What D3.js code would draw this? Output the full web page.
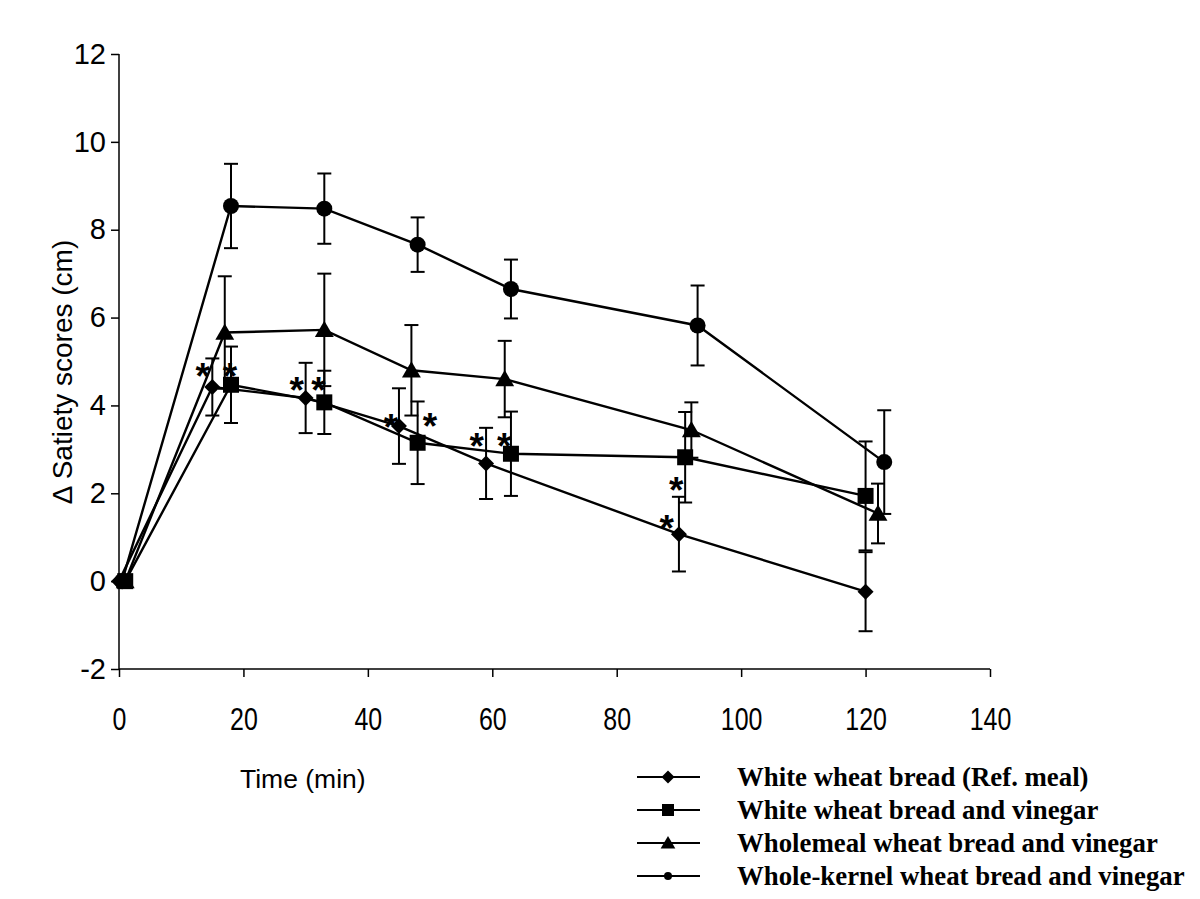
<!DOCTYPE html>
<html>
<head>
<meta charset="utf-8">
<script src="https://cdn.jsdelivr.net/npm/d3@7"></script>
<style>
html,body{margin:0;padding:0;background:#fff;}
svg{display:block;}
</style>
</head>
<body>
<svg id="chart" width="1200" height="899"></svg>
<script>
// ---- data ----
const seriesNames = [
  "White wheat bread (Ref. meal)",
  "White wheat bread and vinegar",
  "Wholemeal wheat bread and vinegar",
  "Whole-kernel wheat bread and vinegar"
];
const seriesSymbols = ["diamond", "square", "triangle", "circle"];

const diamondX   = [0, 15, 30, 45, 59, 90, 120];
const diamondY   = [0, 4.42, 4.17, 3.53, 2.68, 1.07, -0.24];
const diamondErr = [0, 0.65, 0.80, 0.86, 0.81, 0.85, 0.90];

const squareX   = [1, 18, 33, 48, 63, 91, 120];
const squareY   = [0, 4.47, 4.07, 3.15, 2.90, 2.82, 1.94];
const squareErr = [0, 0.87, 0.72, 0.94, 0.96, 1.03, 1.24];

const triangleX   = [1, 17, 33, 47, 62, 92, 122];
const triangleY   = [0, 5.66, 5.72, 4.80, 4.60, 3.44, 1.54];
const triangleErr = [0, 1.28, 1.28, 1.03, 0.87, 0.63, 0.68];

const circleX   = [0.5, 18, 33, 48, 63, 93, 123];
const circleY   = [0, 8.54, 8.48, 7.66, 6.65, 5.82, 2.71];
const circleErr = [0, 0.96, 0.80, 0.62, 0.67, 0.91, 1.18];

// significance asterisks (x, y in data units)
const starX = [13.46, 17.85, 28.57, 32.04, 43.73, 50.0, 57.5, 61.9, 89.55, 88.05];
const starY = [4.83, 4.83, 4.52, 4.52, 3.67, 3.69, 3.25, 3.25, 2.25, 1.38];

const xTicks = [0, 20, 40, 60, 80, 100, 120, 140];
const yTicks = [-2, 0, 2, 4, 6, 8, 10, 12];
const xTitle = "Time (min)";
const yTitle = "\u0394 Satiety scores (cm)";

// ---- build ----
const seriesData = [
  {x: diamondX, y: diamondY, e: diamondErr},
  {x: squareX, y: squareY, e: squareErr},
  {x: triangleX, y: triangleY, e: triangleErr},
  {x: circleX, y: circleY, e: circleErr}
].map((s, i) => ({
  name: seriesNames[i],
  symbol: seriesSymbols[i],
  points: s.x.map((xv, j) => ({x: xv, y: s.y[j], e: s.e[j]}))
}));

const svg = d3.select("#chart");
const mLeft = 119, mRight = 990, mTop = 54, mBottom = 669;
const x = d3.scaleLinear().domain([0, 140]).range([mLeft, mRight]);
const y = d3.scaleLinear().domain([-2, 12]).range([mBottom, mTop]);

function symbolPath(type, size) {
  if (type === "diamond") {
    const h = size;
    return `M0,${-h}L${h},0L0,${h}L${-h},0Z`;
  }
  if (type === "square") {
    const h = size;
    return `M${-h},${-h}H${h}V${h}H${-h}Z`;
  }
  if (type === "triangle") {
    const w = size * 1.05, hh = size * 1.0;
    return `M0,${-hh}L${w},${hh*0.8}L${-w},${hh*0.8}Z`;
  }
  const r = size;
  return `M${r},0A${r},${r} 0 1,1 ${-r},0A${r},${r} 0 1,1 ${r},0Z`;
}
const plotSize = {diamond: 8, square: 8, triangle: 9, circle: 8};
const legendSize = {diamond: 6.5, square: 6, triangle: 7, circle: 4};
const plainFormat = d => String(d);

// axes
const yAxis = d3.axisLeft(y).tickValues(yTicks).tickSize(8).tickPadding(5).tickFormat(plainFormat);
const gy = svg.append("g").attr("transform", `translate(${mLeft},0)`).call(yAxis);
gy.select(".domain").attr("d", `M0,${mBottom}V${mTop}`).attr("stroke", "#000").attr("stroke-width", 1.5);
gy.selectAll(".tick line").attr("stroke", "#000").attr("stroke-width", 1.5);
gy.selectAll(".tick text").attr("font-family", "Liberation Sans, Arial, sans-serif").attr("font-size", 29).attr("fill", "#000");

const xAxis = d3.axisBottom(x).tickValues(xTicks).tickSize(8).tickPadding(30).tickFormat(plainFormat);
const gx = svg.append("g").attr("transform", `translate(0,${mBottom})`).call(xAxis);
gx.select(".domain").attr("d", `M${mLeft},0H${mRight}`).attr("stroke", "#000").attr("stroke-width", 1.5);
gx.selectAll(".tick line").attr("stroke", "#000").attr("stroke-width", 1.5);
gx.selectAll(".tick text").attr("font-family", "Liberation Sans, Arial, sans-serif").attr("font-size", 32)
  .attr("fill", "#000").attr("transform", "scale(0.78,1)");

// titles
svg.append("text").attr("transform", `translate(72,372) rotate(-90)`)
  .attr("text-anchor", "middle").attr("font-family", "Liberation Sans, Arial, sans-serif")
  .attr("font-size", 28).attr("fill", "#000").text(yTitle);
svg.append("text").attr("x", 240).attr("y", 788)
  .attr("font-family", "Liberation Sans, Arial, sans-serif")
  .attr("font-size", 26.5).attr("fill", "#000").text(xTitle);

// lines
const line = d3.line().x(d => x(d.x)).y(d => y(d.y));
svg.append("g").selectAll("path").data(seriesData).join("path")
  .attr("d", d => line(d.points)).attr("fill", "none").attr("stroke", "#000").attr("stroke-width", 2.4);

// error bars
const eg = svg.append("g").attr("stroke", "#000").attr("stroke-width", 2);
seriesData.forEach(s => {
  s.points.filter(p => p.e > 0).forEach(p => {
    const cx = x(p.x), y1 = y(p.y + p.e), y2 = y(p.y - p.e);
    eg.append("line").attr("x1", cx).attr("x2", cx).attr("y1", y1).attr("y2", y2);
    eg.append("line").attr("x1", cx - 7).attr("x2", cx + 7).attr("y1", y1).attr("y2", y1);
    eg.append("line").attr("x1", cx - 7).attr("x2", cx + 7).attr("y1", y2).attr("y2", y2);
  });
});

// markers
seriesData.forEach(s => {
  svg.append("g").selectAll("path").data(s.points).join("path")
    .attr("transform", d => `translate(${x(d.x)},${y(d.y)})`)
    .attr("d", symbolPath(s.symbol, plotSize[s.symbol])).attr("fill", "#000");
});

// asterisks
const starFs = 37;
svg.append("g").selectAll("text").data(starX.map((v, i) => ({x: v, y: starY[i]}))).join("text")
  .attr("x", d => x(d.x)).attr("y", d => y(d.y) + starFs * 0.55)
  .attr("text-anchor", "middle").attr("font-family", "Liberation Sans, Arial, sans-serif")
  .attr("font-weight", "bold").attr("font-size", starFs).attr("fill", "#000").text("*");

// legend
const legendRows = [777, 810, 843, 876];
const lg = svg.append("g");
seriesData.forEach((s, i) => {
  const ly = legendRows[i];
  lg.append("line").attr("x1", 637).attr("x2", 700).attr("y1", ly).attr("y2", ly)
    .attr("stroke", "#000").attr("stroke-width", 2);
  lg.append("path").attr("transform", `translate(668,${ly})`)
    .attr("d", symbolPath(s.symbol, legendSize[s.symbol])).attr("fill", "#000");
  lg.append("text").attr("x", 737).attr("y", ly + 9)
    .attr("font-family", "Liberation Serif, Times New Roman, serif").attr("font-weight", "bold")
    .attr("font-size", 26.8).attr("fill", "#000").text(s.name);
});
</script>
</body>
</html>
